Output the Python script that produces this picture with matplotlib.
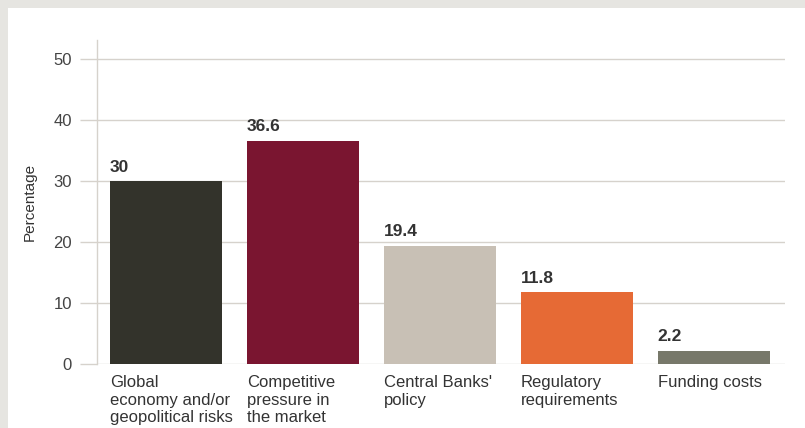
import matplotlib
matplotlib.use("Agg")
import matplotlib.pyplot as plt
from matplotlib.patches import Rectangle

categories = ["Global\neconomy and/or\ngeopolitical risks", "Competitive\npressure in\nthe market",
              "Central Banks'\npolicy", "Regulatory\nrequirements", "Funding costs"]
values = [30, 36.6, 19.4, 11.8, 2.2]
value_labels = ["30", "36.6", "19.4", "11.8", "2.2"]
colors = ["#33332b", "#7a1530", "#c8c0b5", "#e66a35", "#77786a"]
yticks = [0, 10, 20, 30, 40, 50]

plt.rcParams['font.family'] = ['Liberation Sans', 'DejaVu Sans']

fig = plt.figure(figsize=(8.05, 4.28), dpi=100, facecolor="#e6e5e1")
fig.add_artist(Rectangle((8/805, 0), 1, 1 - 8/428, transform=fig.transFigure,
                         facecolor="white", edgecolor="none", zorder=-10))

ax = fig.add_axes([97/805, (428-364)/428, (785-97)/805, (364-40)/428], zorder=1)
ax.set_facecolor("none")

x = list(range(len(values)))
w = 0.82
ax.bar(x, values, width=w, color=colors, zorder=3)
for xi, v, lab in zip(x, values, value_labels):
    ax.annotate(lab, (xi - w/2, v), xytext=(0, 4.5), textcoords="offset points",
                ha="left", va="bottom", fontsize=12.5, fontweight="bold", color="#333333")

ax.set_xlim(-0.505, 4.52)
ax.set_ylim(0, 53.1)
ax.set_yticks(yticks)
ax.yaxis.grid(True, color="#d6d2cc", linewidth=1, zorder=0)
ax.set_axisbelow(True)
ax.tick_params(axis="y", length=12, color="#d6d2cc", width=1, pad=6, labelsize=12, labelcolor="#444444")
ax.set_xticks([])
for s in ["top", "right", "bottom"]:
    ax.spines[s].set_visible(False)
ax.spines["left"].set_color("#d6d2cc")
ax.spines["left"].set_linewidth(1)
ax.set_ylabel("Percentage", fontsize=11, color="#333333", labelpad=12)

for xi, c in zip(x, categories):
    ax.annotate(c, (xi - w/2, 0), xytext=(0, -8), textcoords="offset points",
                ha="left", va="top", fontsize=12, color="#333333", linespacing=1.2)

fig.savefig("out.png", dpi=100, facecolor=fig.get_facecolor())
